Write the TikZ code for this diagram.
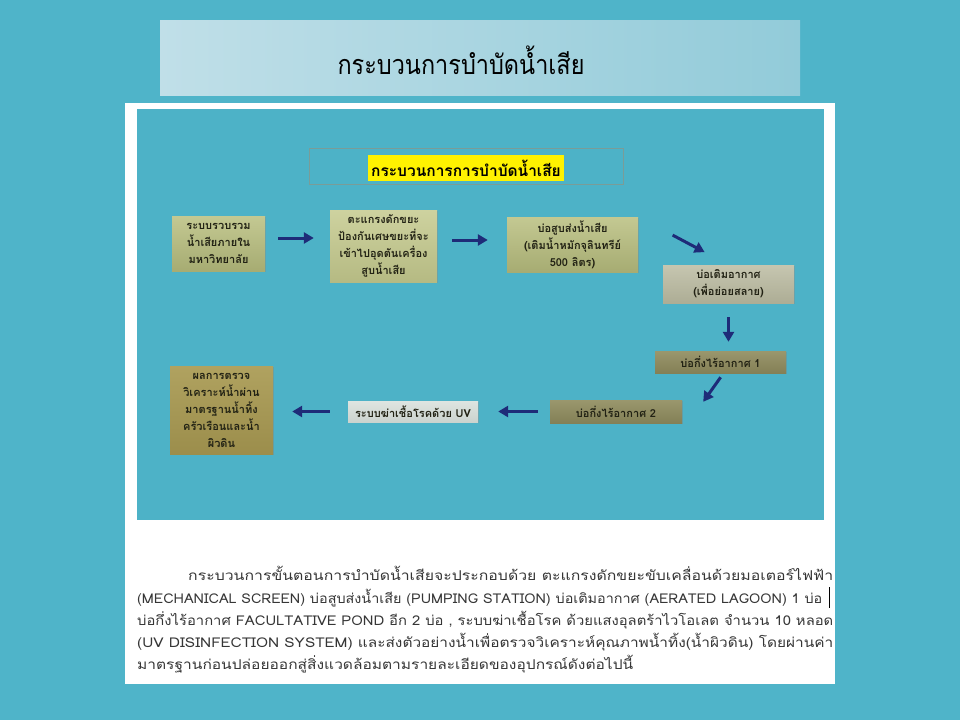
\documentclass[tikz,border=0pt]{standalone}
\usepackage{fontspec}
\usepackage{graphicx}
\newfontfamily\thai[Script=Thai]{Loma}
\usetikzlibrary{arrows.meta,shadows}
\definecolor{bg}{HTML}{4FB4C9}
\definecolor{inner}{HTML}{4DB2C7}
\definecolor{bannerL}{HTML}{C0DFE8}
\definecolor{bannerR}{HTML}{92CBD9}
\definecolor{arrowc}{HTML}{1E2B78}
\definecolor{boxA}{HTML}{B9BF7F}
\definecolor{boxB}{HTML}{C5CA8E}
\definecolor{boxC}{HTML}{BCBCA2}
\definecolor{boxD}{HTML}{8F8B5D}
\definecolor{boxE}{HTML}{D6DED9}
\definecolor{boxF}{HTML}{A99A52}
\definecolor{hdrline}{HTML}{7A9C98}
\definecolor{bodytext}{HTML}{363636}
\definecolor{boxtext}{HTML}{222214}
\tikzset{
  flowbox/.style={inner sep=0pt, align=center, font=\thai\bfseries\fontsize{11}{17}\selectfont,
    text=boxtext, drop shadow={opacity=0.35, shadow xshift=1.2pt, shadow yshift=-1.2pt}},
  arr/.style={arrowc, line width=3pt, -{Triangle[length=10pt,width=11pt]}},
  bodyline/.style={anchor=base west, inner sep=0pt, text=bodytext, font=\thai\fontsize{13.5}{16}\selectfont}
}
\begin{document}
\begin{tikzpicture}[x=1pt,y=-1pt]
\useasboundingbox (0,0) rectangle (960,720);
\fill[bg] (0,0) rectangle (960,720);
% title banner
\node[minimum width=640pt, minimum height=75pt, inner sep=0pt, left color=bannerL, right color=bannerR] (banner) at (480,57.5) {};
\node[inner sep=0pt, font=\thai\fontsize{27}{30}\selectfont, text=black] (title) at (461,60)
  {\resizebox{247pt}{\height}{กระบวนการบำบัดน้ำเสีย}};
% white panel and inner area
\fill[white] (125,103) rectangle (835,684);
\fill[inner] (137,109) rectangle (824,520);
% heading
\node[draw=hdrline, line width=0.8pt, minimum width=314pt, minimum height=36pt, inner sep=0pt] (hdr) at (466,166) {};
\node[fill=yellow, minimum width=196pt, minimum height=26pt, inner sep=0pt,
  font=\thai\bfseries\fontsize{15.5}{18}\selectfont, text=black] (hl) at (466,168) {กระบวนการการบำบัดน้ำเสีย};
% boxes
\node[flowbox, top color=boxA!85!white, bottom color=boxA!90!black, minimum width=93pt, minimum height=55pt] (b1) at (218.5,243.5)
  {ระบบรวบรวม\\น้ำเสียภายใน\\มหาวิทยาลัย};
\node[flowbox, top color=boxB!85!white, bottom color=boxB!92!black, minimum width=107pt, minimum height=72pt] (b2) at (383.5,246)
  {ตะแกรงดักขยะ\\ป้องกันเศษขยะที่จะ\\เข้าไปอุดตันเครื่อง\\สูบน้ำเสีย};
\node[flowbox, top color=boxA!85!white, bottom color=boxA!90!black, minimum width=131pt, minimum height=55pt] (b3) at (572.5,244.5)
  {บ่อสูบส่งน้ำเสีย\\(เติมน้ำหมักจุลินทรีย์\\500 ลิตร)};
\node[flowbox, top color=boxC!85!white, bottom color=boxC!92!black, minimum width=131pt, minimum height=38pt] (b4) at (728.5,284)
  {บ่อเติมอากาศ\\(เพื่อย่อยสลาย)};
\node[flowbox, top color=boxD!90!white, bottom color=boxD!92!black, minimum width=131pt, minimum height=22pt] (b5) at (720.5,362)
  {บ่อกึ่งไร้อากาศ 1};
\node[flowbox, top color=boxD!90!white, bottom color=boxD!92!black, minimum width=132pt, minimum height=23pt] (b6) at (616,411.5)
  {บ่อกึ่งไร้อากาศ 2};
\node[flowbox, top color=boxE!80!white, bottom color=boxE!95!black, minimum width=130pt, minimum height=21pt] (b7) at (413,411.5)
  {ระบบฆ่าเชื้อโรคด้วย UV};
\node[flowbox, top color=boxF!92!white, bottom color=boxF!92!black, minimum width=103pt, minimum height=88pt] (b8) at (221.5,410)
  {ผลการตรวจ\\วิเคราะห์น้ำผ่าน\\มาตรฐานน้ำทิ้ง\\ครัวเรือนและน้ำ\\ผิวดิน};
% arrows
\draw[arr, shorten <=13pt, shorten >=16pt] ([yshift=5.5pt]b1.east) -- ([yshift=5.5pt]b1.east -| b2.west);
\draw[arr, shorten <=15pt, shorten >=19pt] ([yshift=6pt]b2.east) -- ([yshift=6pt]b2.east -| b3.west);
\draw[arr, shorten <=39pt, shorten >=27pt] (b3.north east) -- (b4.north);
\draw[arr, shorten <=14pt, shorten >=9pt] (b4.south) -- (b4.south |- b5.north);
\draw[arr, shorten <=5pt] ([xshift=3pt]b5.south) -- ([xshift=21pt,yshift=-2pt]b6.north east);
\draw[arr, shorten <=12pt, shorten >=20pt] (b6.west) -- (b7.east);
\draw[arr, shorten <=18pt, shorten >=19pt] (b7.west) -- (b7.west -| b8.east);
% body text
\node[bodyline] (l1) at (188,580) {\resizebox{645pt}{\height}{กระบวนการขั้นตอนการบำบัดน้ำเสียจะประกอบด้วย ตะแกรงดักขยะขับเคลื่อนด้วยมอเตอร์ไฟฟ้า}};
\node[bodyline] (l2) at (137,603) {\resizebox{685pt}{\height}{(MECHANICAL SCREEN) บ่อสูบส่งน้ำเสีย (PUMPING STATION) บ่อเติมอากาศ (AERATED LAGOON) 1 บ่อ}};
\node[bodyline] (l3) at (137,625) {\resizebox{696pt}{\height}{บ่อกึ่งไร้อากาศ FACULTATIVE POND อีก 2 บ่อ , ระบบฆ่าเชื้อโรค ด้วยแสงอุลตร้าไวโอเลต จำนวน 10 หลอด}};
\node[bodyline] (l4) at (137,647) {\resizebox{696pt}{\height}{(UV DISINFECTION SYSTEM) และส่งตัวอย่างน้ำเพื่อตรวจวิเคราะห์คุณภาพน้ำทิ้ง(น้ำผิวดิน) โดยผ่านค่า}};
\node[bodyline] (l5) at (137,669) {\resizebox{496pt}{\height}{มาตรฐานก่อนปล่อยออกสู่สิ่งแวดล้อมตามรายละเอียดของอุปกรณ์ดังต่อไปนี้}};
% text cursor
\draw[black, line width=1pt] (829,587) -- (829,608);
\end{tikzpicture}
\end{document}
